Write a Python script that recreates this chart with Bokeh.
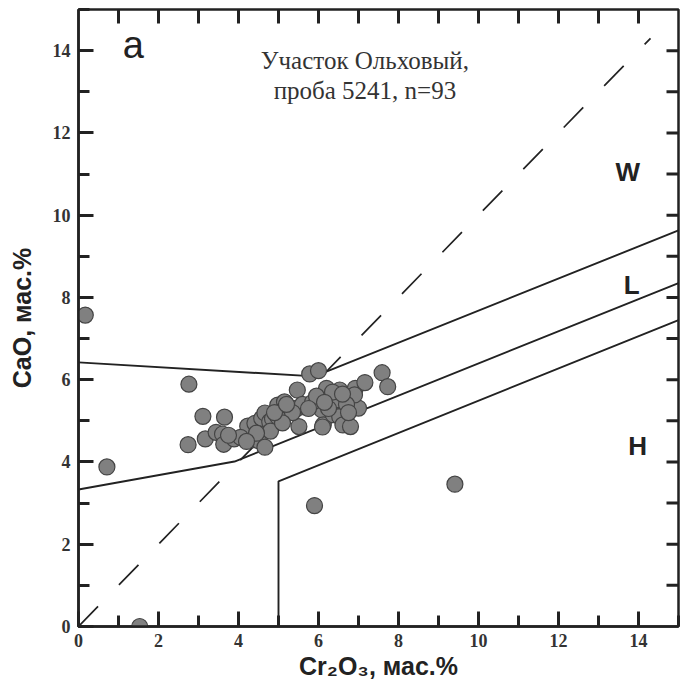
from bokeh.plotting import figure
from bokeh.models import Range1d, SingleIntervalTicker, Label
from bokeh.embed import file_html
from bokeh.resources import INLINE

# ---- data ----
cr2o3 = [0.17, 0.71, 1.53, 5.90, 9.41, 2.76,
         3.11, 3.65, 2.74, 3.17, 3.44, 3.60, 3.63, 3.89, 4.19, 4.23, 4.35, 4.50,
         4.66, 4.41, 4.58, 4.66, 4.78, 4.85, 4.98, 4.98, 5.15, 5.10, 5.30, 5.47,
         5.51, 5.47, 5.68, 5.78, 6.00, 6.04, 6.08, 6.12, 6.10, 6.28, 6.20, 6.45,
         6.37, 6.53, 6.53, 6.61, 6.80, 6.85, 6.92, 7.00, 7.16, 7.59, 7.73, 6.90,
         5.60, 5.85, 5.35, 4.80, 4.45, 4.05, 5.10, 6.25, 6.70, 5.95, 6.35, 4.90,
         4.20, 3.75, 5.20, 5.75, 6.15, 6.60, 6.75]
cao = [7.57, 3.88, 0.00, 2.94, 3.46, 5.89,
       5.11, 5.09, 4.42, 4.56, 4.72, 4.68, 4.43, 4.56, 4.66, 4.87, 4.54, 4.52,
       4.36, 4.94, 5.06, 5.19, 4.98, 5.05, 5.10, 5.38, 5.46, 5.25, 5.30, 5.75,
       4.86, 5.31, 5.33, 6.14, 6.22, 5.55, 5.27, 4.90, 4.85, 5.67, 5.79, 5.51,
       5.15, 5.75, 5.10, 4.90, 4.86, 5.59, 5.79, 5.31, 5.93, 6.17, 5.83, 5.63,
       5.40, 5.45, 5.20, 4.75, 4.70, 4.60, 4.95, 5.30, 5.40, 5.60, 5.70, 5.20,
       4.50, 4.65, 5.40, 5.30, 5.45, 5.65, 5.20]

# field boundaries
upper_x = [0.0, 5.9, 15.0]
upper_y = [6.42, 6.08, 9.63]
middle_x = [0.0, 3.9, 15.0]
middle_y = [3.33, 4.01, 8.35]
lower_x = [5.0, 5.0, 15.0]
lower_y = [0.0, 3.53, 7.45]
diag_x = [0.0, 14.3]
diag_y = [0.0, 14.3]

axis_min, axis_max = 0, 15
edge_ticks = list(range(1, 15))   # unlabelled ticks on top and right frame

W, H = 680, 683
BL, BR, BT, BB = 78, 2, 9, 57
p = figure(width=W, height=H, output_backend="svg", toolbar_location=None,
           x_range=Range1d(axis_min, axis_max), y_range=Range1d(axis_min, axis_max),
           min_border_left=BL, min_border_right=BR, min_border_top=BT,
           min_border_bottom=BB)
p.grid.visible = False
p.background_fill_color = "white"
p.border_fill_color = "white"
p.outline_line_color = "#222222"
p.outline_line_width = 2.5

dark = "#222222"
for ax in (p.xaxis[0], p.yaxis[0]):
    ax.ticker = SingleIntervalTicker(interval=2, num_minor_ticks=2)
    ax.axis_line_width = 2.5
    ax.axis_line_color = dark
    ax.major_tick_in = 15
    ax.major_tick_out = 0
    ax.minor_tick_in = 11
    ax.minor_tick_out = 0
    ax.major_tick_line_width = 3
    ax.minor_tick_line_width = 3
    ax.major_tick_line_color = dark
    ax.minor_tick_line_color = dark
    ax.major_label_text_font = "Liberation Serif"
    ax.major_label_text_font_style = "bold"
    ax.major_label_text_font_size = "18px"
    ax.major_label_text_color = "#333333"
    ax.axis_label_text_font = "Liberation Sans"
    ax.axis_label_text_font_style = "bold"
    ax.axis_label_text_font_size = "25px"
    ax.axis_label_text_color = dark

p.xaxis[0].axis_label = "Cr₂O₃, мас.%"
p.yaxis[0].axis_label = "CaO, мас.%"
p.xaxis[0].major_label_standoff = 7
p.yaxis[0].major_label_standoff = 8
p.xaxis[0].axis_label_standoff = 2
p.yaxis[0].axis_label_standoff = 14

# inward ticks on the top and right frame edges (length in data units)
frame_w = W - BL - BR
frame_h = H - BT - BB
tick_dy = 14 * (axis_max - axis_min) / frame_h
tick_dx = 12 * (axis_max - axis_min) / frame_w
n = len(edge_ticks)
p.segment(x0=edge_ticks, y0=[axis_max] * n, x1=edge_ticks, y1=[axis_max - tick_dy] * n,
          line_color=dark, line_width=3)
p.segment(x0=[axis_max] * n, y0=edge_ticks, x1=[axis_max - tick_dx] * n, y1=edge_ticks,
          line_color=dark, line_width=3)

p.line(diag_x, diag_y, line_color=dark, line_width=1.7, line_dash="28 30")
p.line(upper_x, upper_y, line_color=dark, line_width=1.9)
p.line(middle_x, middle_y, line_color=dark, line_width=1.9)
p.line(lower_x, lower_y, line_color=dark, line_width=1.9)

p.scatter(cr2o3, cao, size=16, fill_color="#808080", line_color="#444444",
          line_width=1.2)

p.add_layout(Label(x=1.37, y=14.13, text="a", text_align="center",
                   text_baseline="middle", text_font="Liberation Sans",
                   text_font_size="38px", text_color=dark))
p.add_layout(Label(x=7.16, y=13.76, text="Участок Ольховый,", text_align="center",
                   text_baseline="middle", text_font="Liberation Serif",
                   text_font_size="25px", text_color="#333333"))
p.add_layout(Label(x=7.16, y=13.03, text="проба 5241, n=93", text_align="center",
                   text_baseline="middle", text_font="Liberation Serif",
                   text_font_size="25px", text_color="#333333"))
for t, xx, yy in (("W", 13.73, 11.04), ("L", 13.83, 8.3), ("H", 13.98, 4.4)):
    p.add_layout(Label(x=xx, y=yy, text=t, text_align="center", text_baseline="middle",
                       text_font="Liberation Sans", text_font_style="bold",
                       text_font_size="26px", text_color=dark))

open("out.html", "w").write(file_html(p, INLINE))
